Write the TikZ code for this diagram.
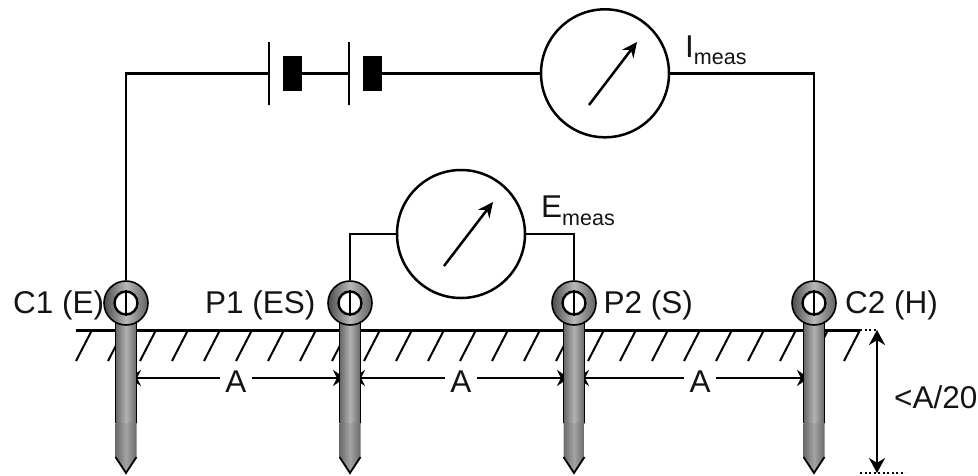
\documentclass[tikz,border=0pt]{standalone}
\usepackage{fontspec}
\setmainfont{Liberation Sans}
\usetikzlibrary{arrows.meta}
\tikzset{
  wire/.style={draw=black,line width=2.5pt},
  meter/.style={circle,draw=black,line width=2.5pt,fill=white,minimum size=128pt,inner sep=0pt},
  eye/.style={circle,draw=black,line width=1.6pt,minimum size=44pt,inner sep=0pt,left color=black!70,right color=black!62,middle color=black!28},
  hole/.style={circle,draw=black,line width=2.4pt,fill=white,minimum size=23pt,inner sep=0pt},
  lbl/.style={inner sep=0pt,font=\fontsize{31.5}{31.5}\selectfont,text=black!92},
  block/.style={fill=black,draw=none,minimum width=19pt,minimum height=35pt,inner sep=0pt},
  needle/.style={line width=2.5pt,-{Stealth[length=15pt,width=14pt]}},
  dim/.style={line width=2.4pt,{Stealth[length=15pt,width=16pt]}-{Stealth[length=15pt,width=16pt]}},
  dots/.style={line width=1.6pt,dash pattern=on 2pt off 2.5pt},
  hatch/.style={line width=2pt},
  aarrow/.style={line width=2pt,-{Stealth[length=12pt,width=16pt]}}
}
\newcommand{\stake}[2]{%
  \path[left color=black!60,right color=black!60,middle color=black!30] (#1-10.5,305) rectangle (#1+10.5,423);
  \path[left color=black!58,right color=black!58,middle color=black!36] (#1-10.5,423) -- (#1+10.5,423) -- (#1+10.5,457) -- (#1,473) -- (#1-10.5,457) -- cycle;
  \draw[line width=1.8pt] (#1-10.5,320) -- (#1-10.5,423);
  \draw[line width=1.8pt] (#1+10.5,320) -- (#1+10.5,423);
  \draw[line width=1.8pt] (#1-10.5,457) -- (#1,473) -- (#1+10.5,457);
  \node[eye] (#2) at (#1,303) {};
  \node[hole] (#2h) at (#1,303) {};
  \draw[line width=2.4pt] (#2h.north) -- (#2h.south);
}
\begin{document}
\begin{tikzpicture}[x=1pt,y=-1pt]
\useasboundingbox (0,0) rectangle (978,475);
% ground
\coordinate (gl) at (76,330);
\coordinate (gr) at (860,330);
\draw[line width=3pt] (gl) -- (gr);
\foreach \k in {0,...,24}{
  \draw[hatch] ({76+32*\k},361) -- ({92+32*\k},330);
}
\coordinate (d1) at (877,330);
\coordinate (d2) at (877,473);
\coordinate (d3) at (905,473);
\coordinate (d4) at (860,473);
\draw[dots] (gr) -- (d1);
\draw[dots] (d4) -- (d3);
\draw[dim] (d1) -- (d2);
\node[lbl,anchor=base west] at (894,408) {<A/20};
% dimension arrows (stakes are drawn over their tips)
\node[lbl,anchor=base] (a1) at (236,392.7) {A};
\node[lbl,anchor=base] (a2) at (461,392.7) {A};
\node[lbl,anchor=base] (a3) at (700,392.7) {A};
\coordinate (t1r) at (129,378);
\coordinate (t2l) at (345,378);
\coordinate (t2r) at (353,378);
\coordinate (t3l) at (569,378);
\coordinate (t3r) at (577,378);
\coordinate (t4l) at (809,378);
\draw[aarrow] ([xshift=-5pt]a1.west |- t1r) -- (t1r);
\draw[aarrow] ([xshift=5pt]a1.east |- t1r) -- (t2l);
\draw[aarrow] ([xshift=-5pt]a2.west |- t2r) -- (t2r);
\draw[aarrow] ([xshift=5pt]a2.east |- t2r) -- (t3l);
\draw[aarrow] ([xshift=-5pt]a3.west |- t3r) -- (t3r);
\draw[aarrow] ([xshift=5pt]a3.east |- t3r) -- (t4l);
% stakes
\stake{126}{c1}
\stake{350}{p1}
\stake{574}{p2}
\stake{814}{c2}
% meters and battery
\node[meter] (mi) at (605,73.3) {};
\node[meter] (me) at (461,234) {};
\coordinate (b1) at (269,73.3);
\coordinate (b2) at (349,73.3);
\node[block] (k1) at (292.5,73.3) {};
\node[block] (k2) at (372.5,73.3) {};
\draw[line width=2.5pt] (269,42) -- (269,105);
\draw[line width=2.5pt] (349,42) -- (349,105);
\draw[wire] (c1.north) |- (b1);
\draw[wire] (k1.east) -- (b2);
\draw[wire] (k2.east) -- (mi.west);
\draw[wire] (mi.east) -| (c2.north);
\draw[wire] (me.west) -| (p1.north);
\draw[wire] (me.east) -| (p2.north);
\coordinate (n1a) at (589,105);
\coordinate (n1b) at (637,42);
\coordinate (n2a) at (444,266);
\coordinate (n2b) at (493,202);
\draw[needle] (n1a) -- (n1b);
\draw[needle] (n2a) -- (n2b);
% labels
\node[lbl,anchor=base west] at (13,313) {C1 (E)};
\node[lbl,anchor=base west] at (205,313) {P1 (ES)};
\node[lbl,anchor=base west] at (603.5,313) {P2 (S)};
\node[lbl,anchor=base west] at (845,313) {C2 (H)};
\node[lbl,anchor=base west] at (685,57) {I\raisebox{-7pt}{\fontsize{21.5}{21.5}\selectfont meas}};
\node[lbl,anchor=base west] at (541,217) {E\raisebox{-8pt}{\fontsize{21.5}{21.5}\selectfont meas}};
\end{tikzpicture}
\end{document}
